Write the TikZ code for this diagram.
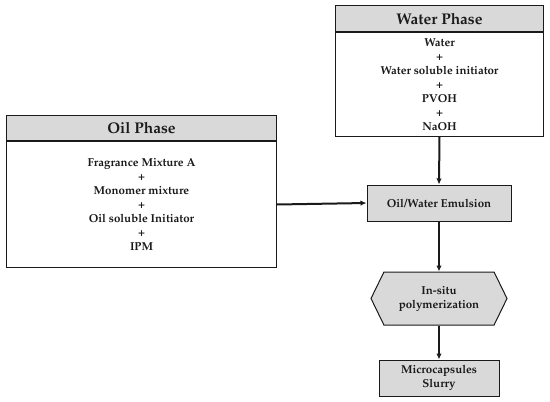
\documentclass[tikz,border=0pt]{standalone}
\usepackage[T1]{fontenc}
\usepackage{tikz}
\usepackage{xcolor}
\renewcommand{\rmdefault}{ppl}
\usetikzlibrary{arrows.meta,positioning,shapes.symbols}
\definecolor{ink}{HTML}{1A1A1A}
\definecolor{boxgray}{HTML}{D9D9D9}
\tikzset{
  phasehead/.style={
    draw=ink, fill=boxgray, line width=1pt, inner sep=0pt,
    font=\bfseries\fontsize{15.5}{17}\selectfont, text=ink
  },
  phasebody/.style={
    draw=ink, fill=white, line width=1pt, align=center, inner sep=0pt,
    font=\bfseries\fontsize{11.5}{14}\selectfont, text=ink
  },
  stepbox/.style={
    draw=ink, fill=boxgray, line width=1pt, align=center, inner sep=0pt,
    font=\bfseries\fontsize{11.5}{14}\selectfont, text=ink
  },
  flow/.style={-{Latex[length=6pt,width=5.5pt]}, line width=2pt, draw=ink}
}

\begin{document}
\begin{tikzpicture}[x=1pt,y=-1pt]
  \useasboundingbox (0,0) rectangle (550,402);

  % water phase
  \node[phasehead,minimum width=208pt,minimum height=26pt,anchor=north west] (waterhead) at (335,5) {Water Phase};
  \node[phasebody,minimum width=208pt,minimum height=104pt,below=0pt of waterhead] (waterbody)
    {Water\\+\\Water soluble initiator\\+\\PVOH\\+\\NaOH};

  % oil phase
  \node[phasehead,minimum width=270pt,minimum height=25pt,anchor=north west] (oilhead) at (6,115) {Oil Phase};
  \node[phasebody,minimum width=270pt,minimum height=126pt,below=0pt of oilhead] (oilbody)
    {Fragrance Mixture A\\+\\Monomer mixture\\+\\Oil soluble Initiator\\+\\IPM};

  % process steps
  \node[stepbox,minimum width=144pt,minimum height=36pt] (emulsion) at (439,203) {Oil/Water Emulsion};
  \node[stepbox,signal,signal to=west and east,signal pointer angle=128,
        minimum width=136pt,minimum height=53pt] (insitu) at (439,298.5) {In-situ\\polymerization};
  \node[stepbox,minimum width=120pt,minimum height=36pt] (slurry) at (439,378) {Microcapsules\\Slurry};

  \draw[flow] (waterbody.south) -- (emulsion.north);
  \draw[flow] (oilbody.east) -- (emulsion.west);
  \draw[flow] (emulsion.south) -- (insitu.north);
  \draw[flow] (insitu.south) -- (slurry.north);
\end{tikzpicture}
\end{document}
